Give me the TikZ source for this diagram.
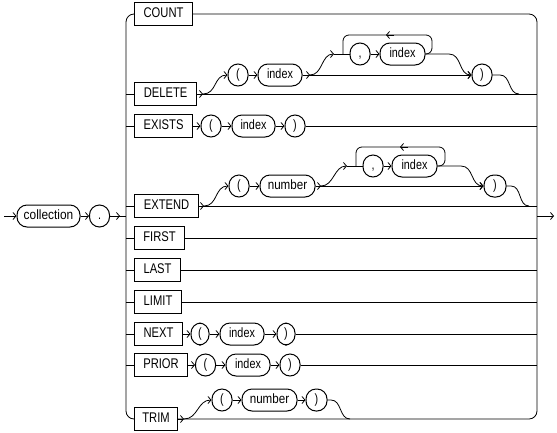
\documentclass[tikz,border=0pt]{standalone}
\usepackage{fontspec}
\setmainfont{Liberation Sans}[FakeStretch=0.8]
\newfontfamily\wideterm{Liberation Sans}[FakeStretch=0.88]
\newfontfamily\midterm{Liberation Sans}[FakeStretch=0.86]
\usetikzlibrary{arrows.meta}
\begin{document}
\begin{tikzpicture}[x=1pt,y=-1pt, line width=0.8pt,
  arr/.style={-{Straight Barb[length=3pt,width=7pt]}},
  kw/.style={draw, line width=1.1pt, minimum height=23pt, inner xsep=2pt, inner ysep=0pt, text height=10pt, text depth=2.5pt, anchor=west, font=\fontsize{14}{16}\selectfont},
  term/.style={draw, line width=1pt, rounded corners=10pt, minimum height=22pt, inner xsep=2pt, inner ysep=0pt, text height=9.5pt, text depth=3pt, font=\fontsize{13.5}{15}\selectfont},
  pn/.style={term, minimum width=20pt},
  loopline/.style={rounded corners=6pt},
  rail/.style={rounded corners=8pt},
  sc/.style={arr}
]
\useasboundingbox (0,0) rectangle (557,432);

% ---------- main line ----------
\coordinate (s) at (4,216);
\node[term, minimum width=63pt, font=\fontsize{13.5}{15}\wideterm] (coll) at (48.5,216) {collection};
\node[pn] (dot) at (99.5,216) {.};
\coordinate (dotarr) at (120,216);
\coordinate (lrj) at (126,216);
\coordinate (rrj) at (537,216);
\coordinate (e) at (554,216);
\draw[arr] (s) -- (coll.west);
\draw[arr] (coll.east) -- (dot.west);
\draw (dot.east) -- (lrj);
\draw[arr] (dot.east) -- (dotarr);
\draw[arr] (rrj) -- (e);

% ---------- keyword boxes ----------
\node[kw, minimum width=58pt] (count) at (134,14) {COUNT};
\node[kw, minimum width=62pt] (del) at (134,94) {DELETE};
\node[kw, minimum width=58pt] (exi) at (134,126) {EXISTS};
\node[kw, minimum width=64pt] (ext) at (134,206) {EXTEND};
\node[kw, minimum width=50pt] (fir) at (134,238) {FIRST};
\node[kw, minimum width=46pt] (las) at (134,270) {LAST};
\node[kw, minimum width=47pt] (lim) at (134,302) {LIMIT};
\node[kw, minimum width=48pt] (nex) at (134,334) {NEXT};
\node[kw, minimum width=53pt] (pri) at (134,365) {PRIOR};
\node[kw, minimum width=43pt] (tri) at (134,419) {TRIM};

% rail junctions
\foreach \n/\yy in {del/94, exi/126, ext/206, fir/238, las/270, lim/302, nex/334, pri/365}{
  \coordinate (L\n) at (126,\yy);
  \coordinate (R\n) at (537,\yy);
}
\coordinate (ltop) at (126,14);
\coordinate (lbot) at (126,419);
\coordinate (rtop) at (537,14);
\coordinate (rbot) at (537,419);

% rails
\draw[rail] (count.west) -- (ltop) -- (lbot) -- (tri.west);
\draw[rail] (count.east) -- (rtop) -- (rbot) -- (tri.east);
\foreach \n in {del, exi, ext, fir, las, lim, nex, pri}{
  \draw (L\n) -- (\n.west);
}
\foreach \n in {del, ext, fir, las, lim}{
  \draw (\n.east) -- (R\n);
}

% ---------- DELETE ----------
\coordinate (d0) at (203,94);
\draw[arr] (del.east) -- (d0);
\node[pn] (dlp) at (238,75) {(};
\node[term, minimum width=44pt] (didx) at (280,75) {index};
\node[pn] (drp) at (482,75) {)};
\draw[sc] (d0) .. controls +(14,0) and +(-14,0) .. (dlp.west);
\draw[arr] (dlp.east) -- (didx.west);
\coordinate (d1) at (310,75);
\draw[arr] (didx.east) -- (drp.west);
\draw[arr] (didx.east) -- (d1);
\coordinate (d2) at (334,54);
\draw[sc] (d1) .. controls +(13,0) and +(-13,0) .. (d2);
\node[pn] (dcm) at (360,54) {,};
\node[term, minimum width=45pt] (didx2) at (402.5,54) {index};
\draw (d2) -- (dcm.west);
\draw[arr] (dcm.east) -- (didx2.west);
\coordinate (dla) at (432,54);
\coordinate (dlb) at (432,35);
\coordinate (dlc) at (343,35);
\coordinate (dld) at (343,54);
\coordinate (dlm1) at (394,35);
\coordinate (dlm2) at (386,35);
\draw[loopline] (didx2.east) -- (dla) -- (dlb) -- (dlc) -- (dld);
\draw[arr] (dlm1) -- (dlm2);
\coordinate (d3) at (449,54);
\draw[sc] (didx2.east) -- (d3) .. controls +(13,0) and +(-13,0) .. (drp.west);
\coordinate (d4) at (500,75);
\coordinate (d5) at (519,94);
\draw (drp.east) -- (d4) .. controls +(11,0) and +(-11,0) .. (d5);

% ---------- EXISTS ----------
\node[pn] (xlp) at (211,126) {(};
\node[term, minimum width=43pt] (xidx) at (253.5,126) {index};
\node[pn] (xrp) at (295,126) {)};
\draw[arr] (exi.east) -- (xlp.west);
\draw[arr] (xlp.east) -- (xidx.west);
\draw[arr] (xidx.east) -- (xrp.west);
\draw (xrp.east) -- (Rexi);

% ---------- EXTEND ----------
\coordinate (e0) at (204,206);
\draw[arr] (ext.east) -- (e0);
\node[pn] (elp) at (239,186) {(};
\node[term, minimum width=55pt, font=\fontsize{13.5}{15}\midterm] (enum) at (287.5,186) {number};
\node[pn, minimum width=22pt] (erp) at (495,186) {)};
\draw[sc] (e0) .. controls +(14,0) and +(-14,0) .. (elp.west);
\draw[arr] (elp.east) -- (enum.west);
\coordinate (e1) at (321,186);
\draw[arr] (enum.east) -- (erp.west);
\draw[arr] (enum.east) -- (e1);
\coordinate (e2) at (347,166);
\draw[sc] (e1) .. controls +(13,0) and +(-13,0) .. (e2);
\node[pn] (ecm) at (373,166) {,};
\node[term, minimum width=45pt] (eidx2) at (414.5,166) {index};
\draw (e2) -- (ecm.west);
\draw[arr] (ecm.east) -- (eidx2.west);
\coordinate (ela) at (445,166);
\coordinate (elb) at (445,147);
\coordinate (elc) at (356,147);
\coordinate (eld) at (356,166);
\coordinate (elm1) at (408,147);
\coordinate (elm2) at (400,147);
\draw[loopline] (eidx2.east) -- (ela) -- (elb) -- (elc) -- (eld);
\draw[arr] (elm1) -- (elm2);
\coordinate (e3) at (461,166);
\draw[sc] (eidx2.east) -- (e3) .. controls +(13,0) and +(-13,0) .. (erp.west);
\coordinate (e4) at (511,186);
\coordinate (e5) at (529,206);
\draw (erp.east) -- (e4) .. controls +(11,0) and +(-11,0) .. (e5);

% ---------- NEXT ----------
\node[pn, minimum width=18pt] (nlp) at (200,334) {(};
\node[term, minimum width=44pt] (nidx) at (242,334) {index};
\node[pn, minimum width=18pt] (nrp) at (286,334) {)};
\draw[arr] (nex.east) -- (nlp.west);
\draw[arr] (nlp.east) -- (nidx.west);
\draw[arr] (nidx.east) -- (nrp.west);
\draw (nrp.east) -- (Rnex);

% ---------- PRIOR ----------
\node[pn] (plp) at (205.5,365) {(};
\node[term, minimum width=44pt] (pidx) at (248,365) {index};
\node[pn] (prp) at (290,365) {)};
\draw[arr] (pri.east) -- (plp.west);
\draw[arr] (plp.east) -- (pidx.west);
\draw[arr] (pidx.east) -- (prp.west);
\draw (prp.east) -- (Rpri);

% ---------- TRIM ----------
\coordinate (t0) at (184,419);
\draw[arr] (tri.east) -- (t0);
\node[pn] (tlp) at (222,400) {(};
\node[term, minimum width=55pt, font=\fontsize{13.5}{15}\midterm] (tnum) at (269.5,400) {number};
\node[pn, minimum width=21pt] (trp) at (316.5,400) {)};
\draw[sc] (t0) .. controls +(14,0) and +(-14,0) .. (tlp.west);
\draw[arr] (tlp.east) -- (tnum.west);
\draw[arr] (tnum.east) -- (trp.west);
\coordinate (t1) at (331,400);
\coordinate (t2) at (350,419);
\draw (trp.east) -- (t1) .. controls +(11,0) and +(-11,0) .. (t2);
\end{tikzpicture}
\end{document}
